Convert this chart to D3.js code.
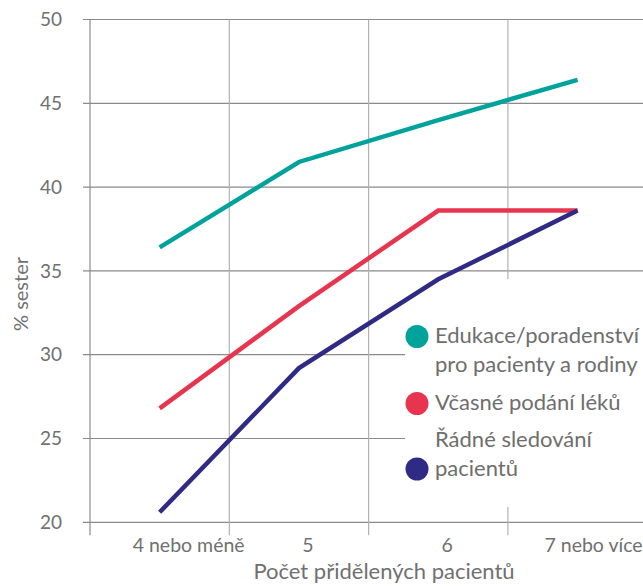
<!DOCTYPE html>
<html>
<head>
<meta charset="utf-8">
<script src="https://cdn.jsdelivr.net/npm/d3@7"></script>
<style>
  body { margin: 0; background: #fff; }
  svg { display: block; font-family: Lato, "Open Sans", sans-serif; }
</style>
</head>
<body>
<svg width="643" height="586"></svg>
<script>
// data
const categories = ["4 nebo méně", "5", "6", "7 nebo více"];
const yTicks = [20, 25, 30, 35, 40, 45, 50];
const eduValues = [36.4, 41.5, 44.0, 46.4];
const lekyValues = [26.8, 32.9, 38.6, 38.6];
const sledValues = [20.6, 29.2, 34.5, 38.6];
const legendLines = [
    ["Edukace/poradenství", "pro pacienty a rodiny"],
    ["Včasné podání léků"],
    ["Řádné sledování", "pacientů"]
];

const colors = ["#00a39b", "#e7354f", "#2f2a84"];
const series = [eduValues, lekyValues, sledValues];

const svg = d3.select("svg");
const plotLeft = 90, plotTop = 19.5, plotBottom = 522.3, step = 139.3;

const x = d3.scaleBand()
    .domain(categories)
    .range([plotLeft, plotLeft + step * categories.length])
    .padding(0);

const y = d3.scaleLinear()
    .domain([20, 50])
    .range([plotBottom, plotTop]);

// horizontal grid
svg.append("g")
    .selectAll("line")
    .data(yTicks)
    .enter().append("line")
    .attr("x1", plotLeft - 7)
    .attr("x2", 643)
    .attr("y1", d => y(d))
    .attr("y2", d => y(d))
    .attr("stroke", "#8a8a8a")
    .attr("stroke-width", 1.2);

// vertical grid (band edges)
svg.append("g")
    .selectAll("line")
    .data(categories)
    .enter().append("line")
    .attr("x1", d => x(d))
    .attr("x2", d => x(d))
    .attr("y1", plotTop)
    .attr("y2", plotBottom + 13)
    .attr("stroke", (d, i) => i == 0 ? "#8a8a8a" : "#b2b2b2")
    .attr("stroke-width", 1.2);

// y tick labels
svg.append("g")
    .selectAll("text")
    .data(yTicks)
    .enter().append("text")
    .attr("x", 62)
    .attr("y", d => y(d))
    .attr("dy", "0.35em")
    .attr("text-anchor", "end")
    .attr("fill", "#707070")
    .style("font-size", "19px")
    .text(d => d);

// x tick labels (a bit off centre, as in the original)
const labelNudge = [29, 9, 9, 16];
svg.append("g")
    .selectAll("text")
    .data(categories)
    .enter().append("text")
    .attr("x", (d, i) => x(d) + x.bandwidth() / 2 + labelNudge[i])
    .attr("y", 552)
    .attr("text-anchor", "middle")
    .attr("fill", "#707070")
    .style("font-size", "19.5px")
    .text(d => d);

// axis titles
svg.append("text")
    .attr("x", 384)
    .attr("y", 579)
    .attr("text-anchor", "middle")
    .attr("fill", "#707070")
    .style("font-size", "22px")
    .text("Počet přidělených pacientů");

svg.append("text")
    .attr("transform", "translate(28, 294) rotate(-90)")
    .attr("text-anchor", "middle")
    .attr("fill", "#707070")
    .style("font-size", "20px")
    .text("% sester");

// legend box, white, covers part of the grid
const legend = svg.append("g");
legend.append("rect")
    .attr("x", 405)
    .attr("y", 279)
    .attr("width", 240)
    .attr("height", 228)
    .attr("fill", "#fff");

// lines
const line = d3.line()
    .x((d, i) => x(categories[i]) + x.bandwidth() / 2)
    .y(d => y(d));

svg.append("g")
    .selectAll("path")
    .data(series)
    .enter().append("path")
    .attr("d", line)
    .attr("fill", "none")
    .attr("stroke", (d, i) => colors[i])
    .attr("stroke-width", 4.5);

const legendBase = [343, 410, 447];
const dotLine = [0, 0, 1];
const lineGap = 28.5;

legendLines.forEach(function(lines, i) {
    lines.forEach(function(t, j) {
        legend.append("text")
            .attr("x", 435)
            .attr("y", legendBase[i] + j * lineGap)
            .attr("fill", "#6e6e6e")
            .style("font-size", "22px")
            .text(t);
    });
    legend.append("circle")
        .attr("cx", 417)
        .attr("cy", legendBase[i] + dotLine[i] * lineGap - 6.5)
        .attr("r", 11.5)
        .attr("fill", colors[i]);
});
</script>
</body>
</html>
